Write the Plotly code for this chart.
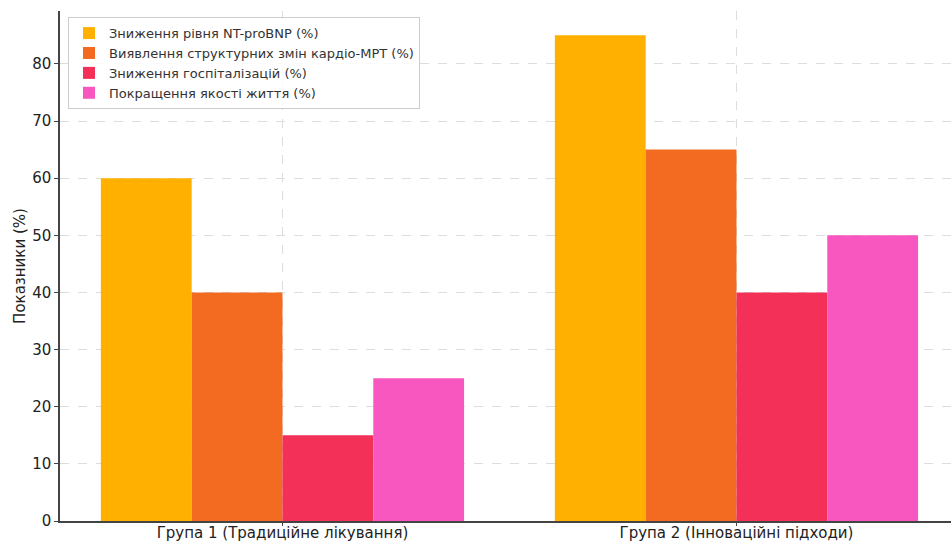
import plotly.graph_objects as go

categories = ["Група 1 (Традиційне лікування)", "Група 2 (Інноваційні підходи)"]
series_names = [
    "Зниження рівня NT-proBNP (%)",
    "Виявлення структурних змін кардіо-МРТ (%)",
    "Зниження госпіталізацій (%)",
    "Покращення якості життя (%)",
]
ntprobnp = [60, 85]
mri = [40, 65]
hosp = [15, 40]
quality = [25, 50]
colors = ["#FFB000", "#F26B21", "#F33057", "#F857BF"]

fig = go.Figure()
for name, vals, col in zip(series_names, [ntprobnp, mri, hosp, quality], colors):
    fig.add_trace(go.Bar(x=categories, y=vals, name=name, marker=dict(color=col, line=dict(width=0))))

fig.update_layout(
    width=951, height=542,
    margin=dict(l=60, r=0, t=11, b=21, autoexpand=False),
    paper_bgcolor="white", plot_bgcolor="white",
    barmode="group", bargap=0.2, bargroupgap=0,
    font=dict(family="DejaVu Sans", size=14, color="#222"),
    legend=dict(x=0.009, y=0.988, xanchor="left", yanchor="top",
                bgcolor="rgba(255,255,255,0.85)", bordercolor="#ccc", borderwidth=1,
                font=dict(size=13, color="#333"), tracegroupgap=0, itemwidth=30),
    xaxis=dict(type="category", range=[-0.49, 1.4725], showline=True, linecolor="#444", linewidth=1.5,
               ticks="outside", ticklen=3, tickcolor="#444", automargin=False,
               ticklabelstandoff=-6,
               showgrid=True, gridcolor="#dddddd", griddash="dash", gridwidth=1,
               tickfont=dict(size=15, color="#222")),
    yaxis=dict(range=[0, 89.25], dtick=10, showline=True, linecolor="#444", linewidth=1.5,
               ticks="outside", ticklen=4, tickcolor="#444", automargin=False,
               showgrid=True, gridcolor="#dddddd", griddash="dash", gridwidth=1, zeroline=False,
               tickfont=dict(size=15, color="#222"),
               title=dict(text="Показники (%)", font=dict(size=15, color="#222"), standoff=3)),
)

fig.write_html("out.html", config={"displayModeBar": False},
               post_script="document.body.style.margin='0px';document.body.style.overflow='hidden';")
